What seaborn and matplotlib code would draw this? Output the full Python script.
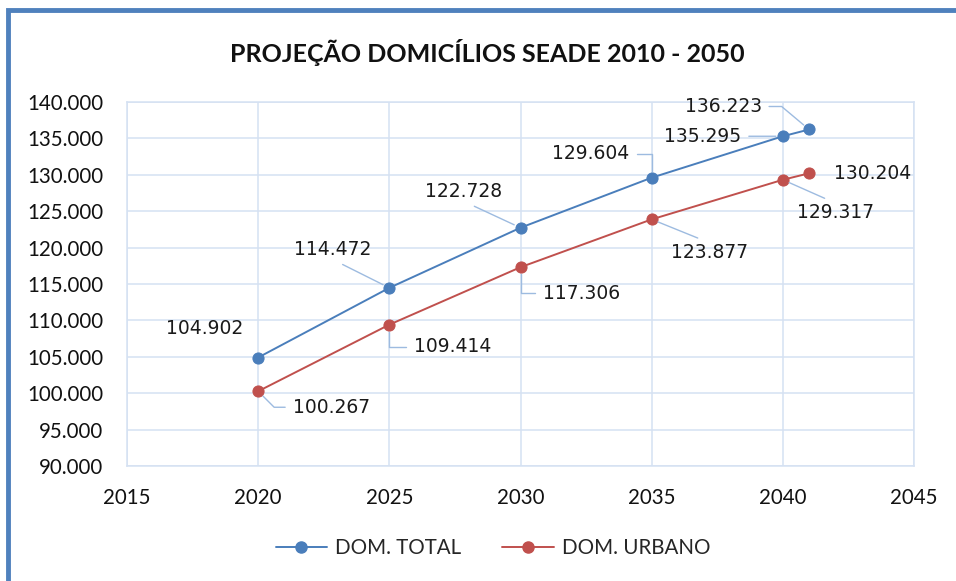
import pandas as pd
import numpy as np
import matplotlib
matplotlib.use("Agg")
import matplotlib.pyplot as plt
import matplotlib.ticker as mticker
from matplotlib.patches import Rectangle
from matplotlib.lines import Line2D
import seaborn as sns

# data
years = [2020, 2025, 2030, 2035, 2040, 2041]
dom_total = [104902, 114472, 122728, 129604, 135295, 136223]
dom_urbano = [100267, 109414, 117306, 123877, 129317, 130204]
series_names = ["DOM. TOTAL", "DOM. URBANO"]
title = "PROJEÇÃO DOMICÍLIOS SEADE 2010 - 2050"

blue = "#4a7ebb"
red = "#c0504d"
grid_col = "#d5e1f2"
leader_col = "#9dbbe0"
calib = ["Lato", "DejaVu Sans"]

sns.set_style("white")
plt.rcParams["font.family"] = calib

df = pd.DataFrame({"ano": years, "total": dom_total, "urbano": dom_urbano})

fig = plt.figure(figsize=(9.56, 5.81), dpi=100)
ax = fig.add_axes([127 / 956, 1 - 466 / 581, (914 - 127) / 956, (466 - 102) / 581])

sns.lineplot(data=df, x="ano", y="total", ax=ax, color=blue, lw=1.4,
             marker="o", markersize=8, markeredgecolor=blue, zorder=4)
sns.lineplot(data=df, x="ano", y="urbano", ax=ax, color=red, lw=1.4,
             marker="o", markersize=8, markeredgecolor=red, zorder=4)

ax.set_xlim(2015, 2045)
ax.set_ylim(90000, 140000)
ax.set_xticks(range(2015, 2046, 5))
ax.set_yticks(range(90000, 140001, 5000))
ax.yaxis.set_major_formatter(mticker.FuncFormatter(lambda v, p: f"{v:,.0f}".replace(",", ".")))
ax.grid(True, color=grid_col, lw=1.1)
for s in ax.spines.values():
    s.set_color(grid_col)
    s.set_linewidth(1.1)
ax.tick_params(axis="y", length=0, pad=17, labelsize=14.8, labelcolor="#111111")
ax.tick_params(axis="x", length=0, pad=16, labelsize=14.8, labelcolor="#111111")
ax.set_xlabel("")
ax.set_ylabel("")

# label offsets in pixels (dx, dy) and leader style
lab_total = [(-54, 29, None, None), (-57, 38, "arc3", (0.5, 0)), (-57, 36, "arc3", (0.5, 0)),
             (-61, 24, "angle,angleA=0,angleB=90,rad=0", (1, 0.5)),
             (-80, 0, "arc3", (1, 0.5)),
             (-86, 23, "angle,angleA=0,angleB=140,rad=0", (1, 0.5))]
lab_urb = [(73, -16, "angle,angleA=0,angleB=-45,rad=0", (0, 0.5)),
           (63, -22, "angle,angleA=0,angleB=90,rad=0", (0, 0.5)),
           (61, -26, "angle,angleA=0,angleB=90,rad=0", (0, 0.5)),
           (58, -33, "arc3", (0.5, 1)),
           (53, -33, "arc3", (0.5, 1)),
           (64, 0, None, None)]

for vals, labs in [(dom_total, lab_total), (dom_urbano, lab_urb)]:
    for x, v, (dx, dy, conn, rel) in zip(years, vals, labs):
        txt = f"{v:,.0f}".replace(",", ".")
        kw = {}
        if conn is not None:
            kw["arrowprops"] = dict(arrowstyle="-", color=leader_col, lw=1.0,
                                    connectionstyle=conn, relpos=rel,
                                    shrinkA=3, shrinkB=5)
        ax.annotate(txt, xy=(x, v), xytext=(dx, dy), textcoords="offset pixels",
                    ha="center", va="center", fontsize=13.5, color="#1a1a1a",
                    family=["DejaVu Sans"], zorder=5, **kw)

fig.text(487 / 956, 1 - 52 / 581, title, ha="center", va="center",
         fontsize=18, fontweight="bold", color="#111111")

handles = [Line2D([0], [0], color=blue, lw=1.4, marker="o", markersize=8),
           Line2D([0], [0], color=red, lw=1.4, marker="o", markersize=8)]
fig.legend(handles, series_names, loc="center", bbox_to_anchor=(493 / 956, 1 - 548 / 581),
           ncol=2, frameon=False, fontsize=14.8, handlelength=2.5, columnspacing=2.0,
           handletextpad=0.4)

# outer frame, only top and left edges show
fig.patches.append(Rectangle((8 / 956, -0.1), 1.2, 1.1 - 10 / 581, transform=fig.transFigure,
                             fill=False, edgecolor="#4f81bd", lw=3.5, clip_on=False))

fig.savefig("out.png", dpi=100)
